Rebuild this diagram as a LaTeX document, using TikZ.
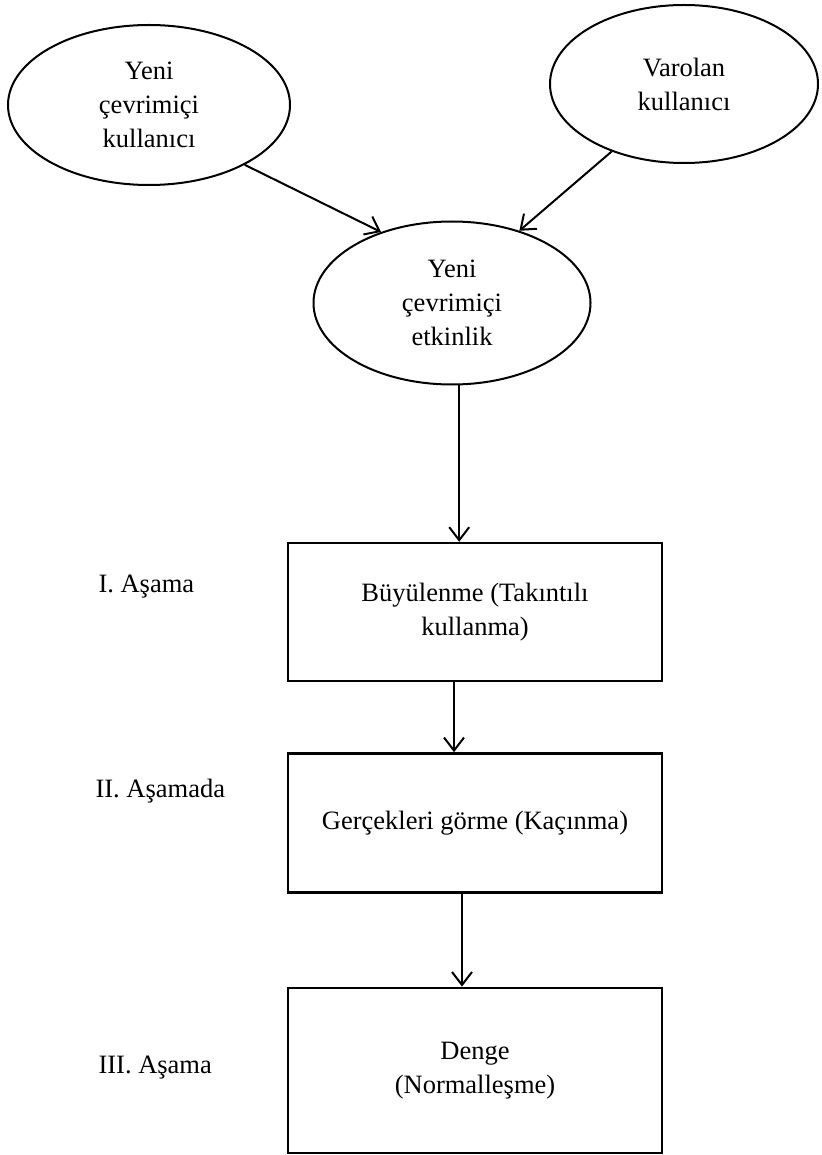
\documentclass[tikz,border=0pt]{standalone}
\usepackage{fontspec}
\setmainfont{Liberation Serif}
\usetikzlibrary{positioning, arrows.meta, shapes.geometric}

\begin{document}
\begin{tikzpicture}[x=1pt, y=-1pt, >={Straight Barb[length=13pt, width=20pt]},
      font=\fontsize{26.5}{34}\selectfont,
      oval/.style={draw, ellipse, line width=2pt, align=center, inner sep=0pt},
      stage/.style={draw, line width=2.4pt, align=center, minimum width=374pt},
      phase/.style={anchor=base west},
      link/.style={->, line width=2pt}]
    \useasboundingbox (0,0) rectangle (821,1155);
    \node[oval, minimum width=282pt, minimum height=160pt] (newuser) at (149,105) {Yeni\\çevrimiçi\\kullanıcı};
    \node[oval, minimum width=268pt, minimum height=158pt] (olduser) at (684,84) {Varolan\\kullanıcı};
    \node[oval, minimum width=277pt, minimum height=163pt] (activity) at (452,303) {Yeni\\çevrimiçi\\etkinlik};
    \draw[link] (newuser.-32) -- (activity.135);
    \draw[link] (olduser.-137) -- (activity.47);
    \node[stage, minimum height=138pt] (s1) at (475,612) {Büyülenme (Takıntılı\\kullanma)};
    \node[stage, minimum height=139pt, below=70pt of s1] (s2) {Gerçekleri görme (Kaçınma)};
    \node[stage, minimum height=165pt, below=93pt of s2] (s3) {Denge\\(Normalleşme)};
    \draw[link] (activity.-85) -- (activity.-85 |- s1.north);
    \draw[link] ([xshift=-21pt]s1.south) -- ([xshift=-21pt]s1.south |- s2.north);
    \draw[link] ([xshift=-13pt]s2.south) -- ([xshift=-13pt]s2.south |- s3.north);
    \node[phase] (p1) at (95,592) {I. Aşama};
    \node[phase] (p2) at (92,797) {II. Aşamada};
    \node[phase] (p3) at (95,1073) {III. Aşama};
  \end{tikzpicture}
\end{document}
